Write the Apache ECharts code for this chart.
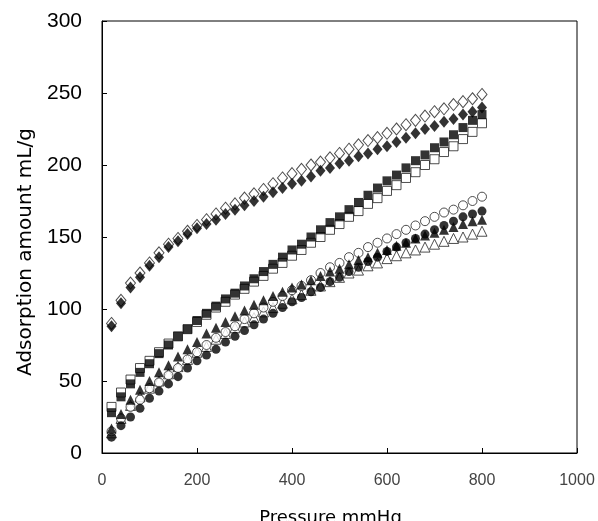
<!DOCTYPE html>
<html>
<head>
<meta charset="utf-8">
<script src="https://cdn.jsdelivr.net/npm/echarts@6/dist/echarts.min.js"></script>
<style>
  html, body { margin: 0; padding: 0; background: #fff; }
  #chart { width: 598px; height: 521px; }
</style>
</head>
<body>
<div id="chart"></div>
<script>
// pressure, mmHg
const pressure = [20, 40, 60, 80, 100, 120, 140, 160, 180, 200,
  220, 240, 260, 280, 300, 320, 340, 360, 380, 400,
  420, 440, 460, 480, 500, 520, 540, 560, 580, 600,
  620, 640, 660, 680, 700, 720, 740, 760, 780, 800]

// adsorption amount, mL/g
const openDiamond = [90, 106, 118, 125, 132, 139, 145, 149, 154, 158,
  162, 166, 170, 173, 177, 180, 183, 187, 191, 194,
  197, 200, 202, 205, 208, 211, 214, 217, 219, 222,
  225, 228, 231, 234, 237, 239, 242, 244, 246, 249]
const filledDiamond = [88, 104, 115, 122, 130, 136, 143, 147, 152, 156,
  159, 162, 166, 169, 172, 175, 178, 181, 184, 187,
  189, 192, 196, 198, 201, 203, 206, 208, 211, 213,
  216, 219, 222, 225, 227, 230, 232, 235, 237, 240]
const filledSquare = [28, 39, 48, 56, 62, 69, 75, 81, 86, 92,
  97, 102, 107, 111, 116, 121, 126, 131, 136, 141,
  145, 150, 155, 160, 164, 169, 174, 179, 184, 189,
  193, 198, 203, 207, 212, 216, 221, 226, 231, 235]
const openSquare = [32, 42, 51, 59, 64, 70, 76, 81, 86, 91,
  96, 101, 105, 110, 114, 119, 123, 128, 132, 137,
  141, 146, 150, 155, 159, 164, 168, 173, 177, 182,
  186, 191, 195, 200, 204, 209, 213, 218, 223, 229]
const filledTriangle = [17, 27, 37, 44, 50, 56, 61, 67, 72, 77,
  83, 87, 91, 95, 99, 103, 106, 109, 112, 115,
  117, 120, 123, 126, 128, 131, 134, 136, 139, 141,
  144, 146, 149, 151, 153, 155, 157, 159, 161, 162]
const filledCircle = [11, 19, 25, 31, 38, 43, 48, 53, 59, 64,
  68, 72, 77, 81, 85, 89, 93, 97, 101, 105,
  108, 112, 115, 119, 122, 126, 129, 133, 136, 140,
  143, 146, 149, 152, 155, 158, 161, 164, 166, 168]
const openCircle = [15, 24, 32, 37, 45, 49, 54, 59, 65, 70,
  75, 80, 84, 88, 93, 97, 101, 105, 109, 113,
  116, 120, 125, 129, 132, 136, 139, 143, 146, 149,
  152, 155, 158, 161, 164, 167, 169, 172, 175, 178]
const openTriangle = [14, 24, 33, 39, 45, 50, 55, 60, 65, 70,
  74, 79, 83, 87, 91, 94, 98, 101, 104, 107,
  110, 113, 116, 119, 122, 125, 127, 130, 132, 135,
  137, 139, 141, 143, 145, 147, 149, 150, 152, 154]

const xTicks = [0, 200, 400, 600, 800, 1000]
const yTicks = [0, 50, 100, 150, 200, 250, 300]

function pairs (ys) {
  return pressure.map((x, i) => [x, ys[i]])
}

// open marks: white fill, dark outline
function makeSeries (name, ys, symbol, size, filled) {
  return {
    name: name,
    type: 'scatter',
    data: pairs(ys),
    symbol: symbol,
    symbolSize: size,
    itemStyle: filled
      ? { color: '#000' }
      : { color: '#fff', borderColor: '#222', borderWidth: 1 },
    emphasis: { disabled: true }
  }
}

const chart = echarts.init(document.getElementById('chart'))
chart.setOption({
  animation: false,
  backgroundColor: '#fff',
  grid: {
    left: 102,
    right: 21,
    top: 21,
    bottom: 68,
    outerBoundsMode: 'none',
    show: true,
    borderColor: '#000',
    borderWidth: 1
  },
  xAxis: {
    type: 'value',
    min: xTicks[0],
    max: xTicks[xTicks.length - 1],
    interval: 200,
    name: 'Pressure mmHg',
    nameLocation: 'middle',
    nameGap: 56,
    nameTextStyle: { fontFamily: 'DejaVu Sans', fontSize: 18, color: '#000', padding: [0, 18, 0, 0] },
    axisLine: { show: true, lineStyle: { color: '#000' } },
    axisTick: { inside: true, length: 5, lineStyle: { color: '#000' } },
    axisLabel: {
      margin: 20,
      fontFamily: 'Liberation Sans',
      fontSize: 16,
      color: '#444',
      formatter: v => String(v)
    },
    splitLine: { show: false }
  },
  yAxis: {
    type: 'value',
    min: yTicks[0],
    max: yTicks[yTicks.length - 1],
    interval: 50,
    name: 'Adsorption amount mL/g',
    nameLocation: 'middle',
    nameGap: 66,
    nameRotate: 90,
    nameTextStyle: { fontFamily: 'DejaVu Sans', fontSize: 20, color: '#000', padding: [0, 30, 0, 0] },
    axisLine: { show: true, lineStyle: { color: '#000' } },
    axisTick: { inside: true, length: 5, lineStyle: { color: '#000' } },
    axisLabel: { margin: 20, fontFamily: 'Liberation Sans', fontSize: 21, color: '#000' },
    splitLine: { show: false }
  },
  series: [
    makeSeries('open diamond', openDiamond, 'diamond', [10, 12], false),
    makeSeries('filled diamond', filledDiamond, 'diamond', [10, 12], true),
    makeSeries('open square', openSquare, 'rect', 9, false),
    makeSeries('filled square', filledSquare, 'rect', 9, true),
    makeSeries('open triangle', openTriangle, 'triangle', 10, false),
    makeSeries('open circle', openCircle, 'circle', 9, false),
    makeSeries('filled triangle', filledTriangle, 'triangle', 10, true),
    makeSeries('filled circle', filledCircle, 'circle', 9, true)
  ]
})
</script>
</body>
</html>
